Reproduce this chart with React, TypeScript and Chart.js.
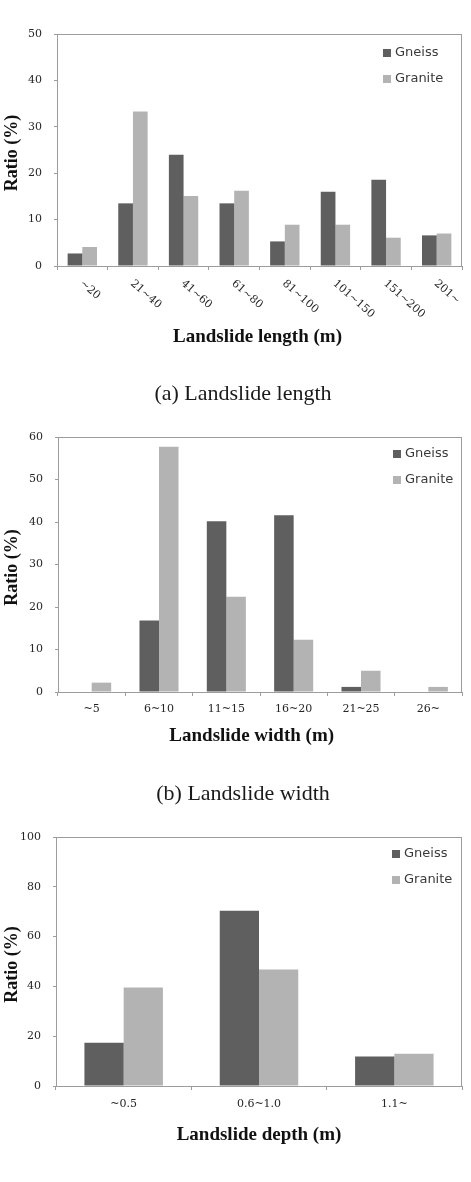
import { useEffect, useRef } from "react";
import { Chart, registerables } from "chart.js";

Chart.register(...registerables);

// Series names and colours
const SERIES = ["Gneiss", "Granite"];
const GNEISS_COLOR = "#5f5f5f";
const GRANITE_COLOR = "#b3b3b3";
const FRAME_COLOR = "#9c9c9c";
const TEXT_COLOR = "#262626";

// (a) Landslide length
const lengthCategories = ["~20", "21~40", "41~60", "61~80", "81~100", "101~150", "151~200", "201~"];
const lengthGneiss = [2.7, 13.5, 24.0, 13.5, 5.3, 16.0, 18.6, 6.6];
const lengthGranite = [4.1, 33.3, 15.1, 16.2, 8.9, 8.9, 6.1, 7.0];

// (b) Landslide width
const widthCategories = ["~5", "6~10", "11~15", "16~20", "21~25", "26~"];
const widthGneiss = [0, 16.8, 40.2, 41.6, 1.2, 0];
const widthGranite = [2.2, 57.7, 22.4, 12.3, 5.0, 1.2];

// (c) Landslide depth
const depthCategories = ["~0.5", "0.6~1.0", "1.1~"];
const depthGneiss = [17.4, 70.4, 11.8];
const depthGranite = [39.6, 46.8, 13.0];

const PAGE_W = 471;

type Panel = {
  id: string;
  top: number;
  height: number;
  labels: string[];
  gneiss: number[];
  granite: number[];
  yMax: number;
  yStep: number;
  area: { left: number; top: number; right: number; bottom: number };
  rotated: boolean;
  xLabelPad: number;
  xTitle: string;
  xTitleX: number;
  xTitleY: number;
  legendX: number;
  legendY: number[];
};

const panels: Panel[] = [
  {
    id: "length",
    top: 0,
    height: 350,
    labels: lengthCategories,
    gneiss: lengthGneiss,
    granite: lengthGranite,
    yMax: 50,
    yStep: 10,
    area: { left: 57, top: 34, right: 462, bottom: 266 },
    rotated: true,
    xLabelPad: 6,
    xTitle: "Landslide length (m)",
    xTitleX: 257.5,
    xTitleY: 337,
    legendX: 383,
    legendY: [53, 79],
  },
  {
    id: "width",
    top: 400,
    height: 350,
    labels: widthCategories,
    gneiss: widthGneiss,
    granite: widthGranite,
    yMax: 60,
    yStep: 10,
    area: { left: 58, top: 37, right: 462, bottom: 292 },
    rotated: false,
    xLabelPad: 7,
    xTitle: "Landslide width (m)",
    xTitleX: 251.7,
    xTitleY: 336,
    legendX: 393,
    legendY: [54, 80],
  },
  {
    id: "depth",
    top: 800,
    height: 360,
    labels: depthCategories,
    gneiss: depthGneiss,
    granite: depthGranite,
    yMax: 100,
    yStep: 20,
    area: { left: 56, top: 37, right: 462, bottom: 286 },
    rotated: false,
    xLabelPad: 8,
    xTitle: "Landslide depth (m)",
    xTitleX: 259,
    xTitleY: 335,
    legendX: 392,
    legendY: [54, 80],
  },
];

const captions = [
  { text: "(a) Landslide length", y: 393 },
  { text: "(b) Landslide width", y: 793 },
];

// Frame, rotated category labels, legend and axis titles
function decorPlugin(p: Panel) {
  return {
    id: "decor-" + p.id,
    afterDraw(chart: any) {
      const { ctx, chartArea: a } = chart;
      ctx.save();

      ctx.strokeStyle = FRAME_COLOR;
      ctx.lineWidth = 1;
      ctx.strokeRect(
        Math.round(a.left) + 0.5,
        Math.round(a.top) + 0.5,
        Math.round(a.right - a.left) - 1,
        Math.round(a.bottom - a.top)
      );

      if (p.rotated) {
        const xs = chart.scales.x;
        ctx.font = '11px "DejaVu Serif"';
        ctx.fillStyle = TEXT_COLOR;
        ctx.textAlign = "left";
        ctx.textBaseline = "middle";
        (chart.data.labels as string[]).forEach((lab, i) => {
          const x = xs.getPixelForTick(i);
          ctx.save();
          ctx.translate(x - 1, a.bottom + 16);
          ctx.rotate(Math.PI * 0.23);
          ctx.fillText(lab, 0, 0);
          ctx.restore();
        });
      }

      ctx.font = '13px "DejaVu Sans"';
      ctx.textAlign = "left";
      ctx.textBaseline = "middle";
      chart.data.datasets.forEach((ds: any, i: number) => {
        const y = p.legendY[i];
        ctx.fillStyle = ds.backgroundColor;
        ctx.fillRect(p.legendX, y - 4, 8, 8);
        ctx.fillStyle = "#3a3a3a";
        ctx.fillText(ds.label, p.legendX + 12, y);
      });

      ctx.fillStyle = "#111";
      ctx.font = 'bold 19px "Liberation Serif"';
      ctx.textAlign = "center";
      ctx.textBaseline = "middle";
      ctx.fillText(p.xTitle, p.xTitleX, p.xTitleY);

      ctx.save();
      ctx.font = 'bold 18px "Liberation Serif"';
      ctx.translate(12.5, (a.top + a.bottom) / 2 + 3);
      ctx.rotate(-Math.PI / 2);
      ctx.fillText("Ratio (%)", 0, 0);
      ctx.restore();

      ctx.restore();
    },
  };
}

function PanelChart({ p }: { p: Panel }) {
  const ref = useRef<HTMLCanvasElement>(null);

  useEffect(() => {
    const canvas = ref.current;
    if (!canvas) return;
    const chart = new Chart(canvas, {
      type: "bar",
      data: {
        labels: p.labels,
        datasets: [
          { label: SERIES[0], data: p.gneiss, backgroundColor: GNEISS_COLOR, borderWidth: 0 },
          { label: SERIES[1], data: p.granite, backgroundColor: GRANITE_COLOR, borderWidth: 0 },
        ],
      },
      options: {
        responsive: false,
        maintainAspectRatio: false,
        animation: false,
        devicePixelRatio: 1,
        layout: {
          padding: { top: p.area.top, right: PAGE_W - p.area.right, left: 0, bottom: 0 },
        },
        datasets: { bar: { categoryPercentage: 0.58, barPercentage: 1 } },
        plugins: { legend: { display: false }, tooltip: { enabled: false } },
        scales: {
          x: {
            grid: {
              offset: true,
              drawOnChartArea: false,
              drawTicks: true,
              tickLength: 4,
              color: FRAME_COLOR,
            },
            border: { color: FRAME_COLOR },
            ticks: {
              display: !p.rotated,
              autoSkip: false,
              maxRotation: 0,
              minRotation: 0,
              padding: p.xLabelPad,
              color: TEXT_COLOR,
              font: { family: "DejaVu Serif", size: 11 },
            },
            afterFit: (s: any) => {
              s.height = p.height - p.area.bottom;
            },
          },
          y: {
            min: 0,
            max: p.yMax,
            ticks: {
              stepSize: p.yStep,
              padding: 12,
              color: TEXT_COLOR,
              font: { family: "DejaVu Serif", size: 11 },
            },
            grid: { drawOnChartArea: false, drawTicks: true, tickLength: 3, color: FRAME_COLOR },
            border: { color: FRAME_COLOR },
            afterFit: (s: any) => {
              s.width = p.area.left;
            },
          },
        },
      },
      plugins: [decorPlugin(p)],
    } as any);
    return () => chart.destroy();
  }, [p]);

  return (
    <canvas
      ref={ref}
      width={PAGE_W}
      height={p.height}
      style={{ position: "absolute", left: 0, top: p.top, width: PAGE_W, height: p.height }}
    />
  );
}

export default function App() {
  return (
    <div
      style={{
        position: "absolute",
        left: 0,
        top: 0,
        width: PAGE_W,
        height: 1182,
        background: "#fff",
        overflow: "hidden",
      }}
    >
      {panels.map((p) => (
        <PanelChart key={p.id} p={p} />
      ))}
      {captions.map((c) => (
        <div
          key={c.text}
          style={{
            position: "absolute",
            left: 43,
            width: 400,
            top: c.y - 13,
            height: 26,
            lineHeight: "26px",
            textAlign: "center",
            fontFamily: '"Liberation Serif", serif',
            fontSize: 22,
            color: "#1a1a1a",
          }}
        >
          {c.text}
        </div>
      ))}
    </div>
  );
}
